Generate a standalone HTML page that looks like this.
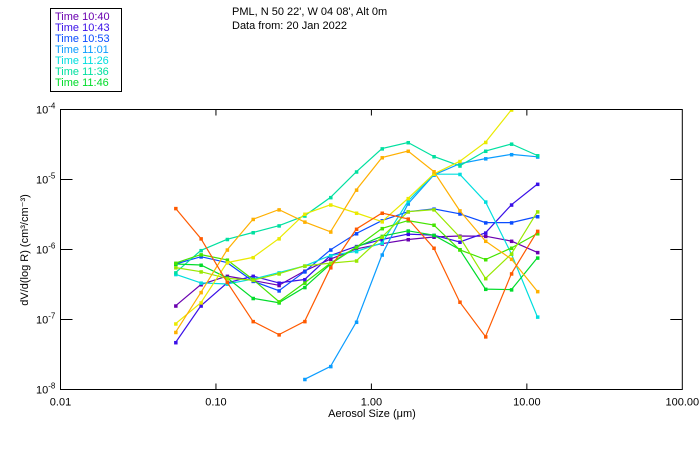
<!DOCTYPE html>
<html><head><meta charset="utf-8">
<style>
body{margin:0;background:#fff;}
svg{display:block;font-family:"Liberation Sans",sans-serif;}
</style></head>
<body>
<svg id="chart" width="700" height="450" viewBox="0 0 700 450">
  <rect x="0" y="0" width="700" height="450" fill="#fff"/>
  <g>
    <rect x="50.5" y="8.5" width="71" height="83" fill="none" stroke="#000"/>
    <g id="legend-items" font-size="11"></g>
  </g>
  <text x="232" y="15" font-size="11">PML, N 50 22', W 04 08', Alt 0m</text>
  <text x="232" y="29" font-size="11">Data from: 20 Jan 2022</text>
  <defs><clipPath id="plotclip"><rect x="60" y="109.3" width="622.3" height="280"/></clipPath></defs>
  <g id="series" clip-path="url(#plotclip)"></g>
  <rect x="60.5" y="109.5" width="621.8" height="280" fill="none" stroke="#000"/>
  <g id="axes" font-size="11"></g>
  <text x="372" y="417" font-size="11" text-anchor="middle">Aerosol Size (μm)</text>
  <text transform="translate(28,250) rotate(-90)" font-size="11" text-anchor="middle">dV/d(log R) (cm³/cm⁻³)</text>
</svg>
<script>
const sizes = [0.055,0.080,0.118,0.173,0.254,0.372,0.546,0.80,1.17,1.72,2.52,3.70,5.42,7.95,11.7];
const seriesNames = ["Time 10:40","Time 10:43","Time 10:53","Time 11:01","Time 11:26","Time 11:36","Time 11:46","Time 11:56","Time 12:06","Time 12:16","Time 12:26","Time 12:36"];
const s1040 = [1.57e-7,3.16e-7,4.17e-7,3.61e-7,3.08e-7,4.93e-7,7.3e-7,1.02e-6,1.21e-6,1.39e-6,1.51e-6,1.56e-6,1.55e-6,1.32e-6,9.1e-7];
const s1043 = [4.7e-8,1.57e-7,3.33e-7,4.17e-7,3.33e-7,3.73e-7,8.2e-7,1.11e-6,1.39e-6,1.66e-6,1.6e-6,1.28e-6,1.73e-6,4.35e-6,8.6e-6];
const s1053 = [6.2e-7,7.9e-7,6.5e-7,3.53e-7,2.58e-7,4.82e-7,9.9e-7,1.69e-6,2.59e-6,3.47e-6,3.8e-6,3.24e-6,2.42e-6,2.42e-6,2.96e-6];
const s1101 = [null,null,null,null,null,1.4e-8,2.14e-8,9.2e-8,8.4e-7,4.5e-6,1.16e-5,1.68e-5,1.99e-5,2.28e-5,2.11e-5];
const s1126 = [4.42e-7,3.33e-7,3.22e-7,3.78e-7,4.67e-7,5.84e-7,8.2e-7,9.4e-7,1.24e-6,4.9e-6,1.19e-5,1.19e-5,4.8e-6,8.65e-7,1.09e-7];
const s1136 = [4.67e-7,9.7e-7,1.4e-6,1.75e-6,2.19e-6,3.03e-6,5.55e-6,1.29e-5,2.76e-5,3.38e-5,2.13e-5,1.57e-5,2.55e-5,3.22e-5,2.2e-5];
const s1146 = [6.2e-7,6.0e-7,3.94e-7,2.01e-7,1.74e-7,2.88e-7,6.2e-7,1.08e-6,1.55e-6,1.85e-6,1.6e-6,1.0e-6,2.72e-7,2.67e-7,7.6e-7];
const s1156 = [6.4e-7,8.45e-7,7.1e-7,3.73e-7,1.8e-7,3.33e-7,6.4e-7,1.08e-6,2.0e-6,2.59e-6,2.24e-6,9.9e-7,7.2e-7,1.05e-6,1.69e-6];
const s1206 = [5.52e-7,4.82e-7,3.86e-7,3.65e-7,4.51e-7,5.84e-7,6.4e-7,6.9e-7,1.51e-6,3.47e-6,3.71e-6,1.51e-6,3.86e-7,8.65e-7,3.47e-6];
const s1216 = [8.7e-8,1.74e-7,6.5e-7,7.7e-7,1.43e-6,3.21e-6,4.35e-6,3.32e-6,2.5e-6,5.37e-6,1.2e-5,1.82e-5,3.41e-5,9.9e-5,2.2e-4];
const s1226 = [6.58e-8,2.44e-7,9.9e-7,2.71e-6,3.71e-6,2.48e-6,1.79e-6,7.1e-6,2.06e-5,2.55e-5,1.3e-5,3.59e-6,1.32e-6,7.3e-7,2.52e-7];
const s1236 = [3.87e-6,1.43e-6,3.41e-7,9.4e-8,6.08e-8,9.4e-8,5.52e-7,1.96e-6,3.32e-6,2.74e-6,1.05e-6,1.78e-7,5.69e-8,4.51e-7,1.83e-6];
const seriesValues = [s1040,s1043,s1053,s1101,s1126,s1136,s1146,s1156,s1206,s1216,s1226,s1236];
const xTickValues = [0.01,0.1,1,10,100];
const xTickLabels = ["0.01","0.10","1.00","10.00","100.00"];
const yTickExps = [-4,-5,-6,-7,-8];

const colors = ["#6a00b0","#3a10e8","#0a4cff","#0a9cff","#00dede","#00e0a0","#00dc2a","#44e400","#98e800","#eaea00","#ffb000","#ff5a00"];
const NS = "http://www.w3.org/2000/svg";
const X0=60.5, X1=682.3, Y0=109.5, Y1=389.5;
function xs(v){ return X0 + (Math.log10(v)+2)/4*(X1-X0); }
function ys(v){ return Y0 + (-4-Math.log10(v))/4*(Y1-Y0); }
function mk(tag, attrs){ const e=document.createElementNS(NS,tag); for(const k in attrs) e.setAttribute(k,attrs[k]); return e; }

const axes=document.getElementById('axes');
xTickValues.forEach((v,i)=>{
  const x=xs(v);
  if(i>0 && i<xTickValues.length-1){
    const t1=mk('line',{x1:x,x2:x,y1:Y1,y2:Y1-6,stroke:'#000'});
    
    
    axes.appendChild(t1);
    const t2=mk('line',{x1:x,x2:x,y1:Y0,y2:Y0+6,stroke:'#000'});
    
    
    axes.appendChild(t2);
  }
  const lb=mk('text',{x:x,y:Y1+16,'text-anchor':'middle'});
  lb.textContent=xTickLabels[i];
  
  
  axes.appendChild(lb);
});
yTickExps.forEach((e,i)=>{
  const y=ys(Math.pow(10,e));
  if(i>0 && i<yTickExps.length-1){
    const t1=mk('line',{x1:X0,x2:X0+12,y1:y,y2:y,stroke:'#000'});
    
    
    axes.appendChild(t1);
    const t2=mk('line',{x1:X1,x2:X1-12,y1:y,y2:y,stroke:'#000'});
    
    
    axes.appendChild(t2);
  }
  const lb=mk('text',{x:36,y:y+4});
  lb.innerHTML='10<tspan dy="-5" font-size="8">'+e+'</tspan>';
  
  
  axes.appendChild(lb);
});

const sg=document.getElementById('series');
seriesValues.forEach((vals,si)=>{
  const g=mk('g',{});
  
  
  let pts=[];
  vals.forEach((v,i)=>{ if(v!=null) pts.push([xs(sizes[i]),ys(v)]); });
  const pl=mk('polyline',{points:pts.map(p=>p[0].toFixed(1)+','+p[1].toFixed(1)).join(' '),fill:'none',stroke:colors[si],'stroke-width':1.2});
  
  
  g.appendChild(pl);
  pts.forEach(p=>{
    const r=mk('rect',{x:p[0]-1.5,y:p[1]-1.5,width:3.5,height:3.5,fill:colors[si]});
    
    
    g.appendChild(r);
  });
  sg.appendChild(g);
});

const lg=document.getElementById('legend-items');
for(let i=0;i<7;i++){
  const t=mk('text',{x:55,y:20+i*11,fill:colors[i]});
  t.textContent=seriesNames[i];
  
  
  lg.appendChild(t);
}
</script>
</body></html>
